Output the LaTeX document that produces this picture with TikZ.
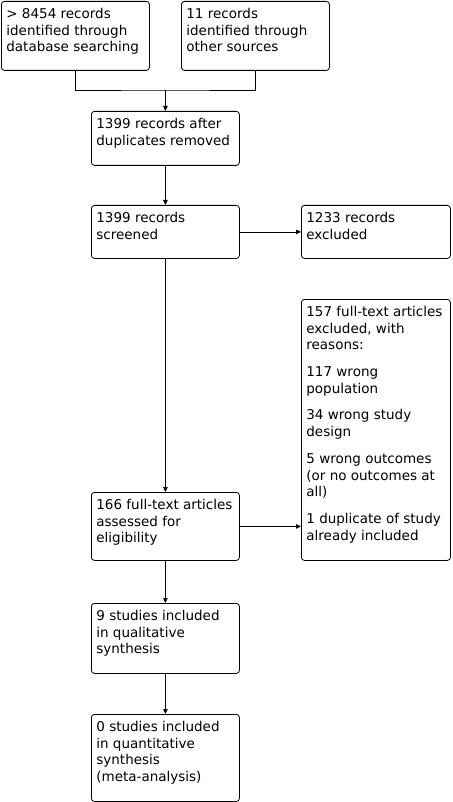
\documentclass[tikz,border=0pt]{standalone}
\usepackage{fontspec}
\setmainfont{DejaVu Sans}
\usetikzlibrary{arrows.meta}
\tikzset{
  flow/.style={draw, rounded corners=3pt, inner xsep=5pt, inner ysep=0pt, anchor=north west, line width=0.8pt},
  conn/.style={line width=0.8pt},
  arr/.style={conn, -{Triangle[length=5pt,width=4.5pt]}}
}
\newcommand\flowbox[6]{%
  \node[flow] (#1) at (#2,#3) {\parbox[t][#5pt][t]{\dimexpr#4pt-10pt\relax}{\fontsize{13.5}{16.7}\selectfont\raggedright\rule{0pt}{17pt}#6}};}
\begin{document}
\begin{tikzpicture}[x=1pt,y=-1pt]
\useasboundingbox (0,0) rectangle (452,802);
\flowbox{A}{1}{1}{148}{69}{> 8454 records\\identified through\\database searching}
\flowbox{B}{181}{1}{148}{69}{11 records\\identified through\\other sources}
\flowbox{C}{91}{111}{148}{54}{1399 records after\\duplicates removed}
\flowbox{D}{91}{205}{148}{53}{1399 records\\screened}
\flowbox{E}{301}{205}{149}{53}{1233 records\\excluded}
\flowbox{F}{301}{299}{149}{261}{157 full-text articles\\excluded, with\\reasons:\par\vspace{10pt}117 wrong\\population\par\vspace{10pt}34 wrong study\\design\par\vspace{10pt}5 wrong outcomes\\(or no outcomes at\\all)\par\vspace{10pt}1 duplicate of study\\already included}
\flowbox{G}{91}{492}{148}{68}{166 full-text articles\\assessed for\\eligibility}
\flowbox{H}{91}{603}{148}{70}{9 studies included\\in qualitative\\synthesis}
\flowbox{I}{91}{714}{148}{87}{0 studies included\\in quantitative\\synthesis\\(meta-analysis)}
\path (C.north) ++(0,-21) coordinate (j);
\draw[conn] (A.south) |- (j) -| (B.south);
\draw[arr] (j) -- (C.north);
\draw[arr] (C.south) -- (D.north);
\draw[arr] (D.east) -- (E.west);
\draw[arr] (D.south) -- (G.north);
\draw[arr] (G.east) -- (G.east -| F.west);
\draw[arr] (G.south) -- (H.north);
\draw[arr] (H.south) -- (I.north);
\end{tikzpicture}
\end{document}
